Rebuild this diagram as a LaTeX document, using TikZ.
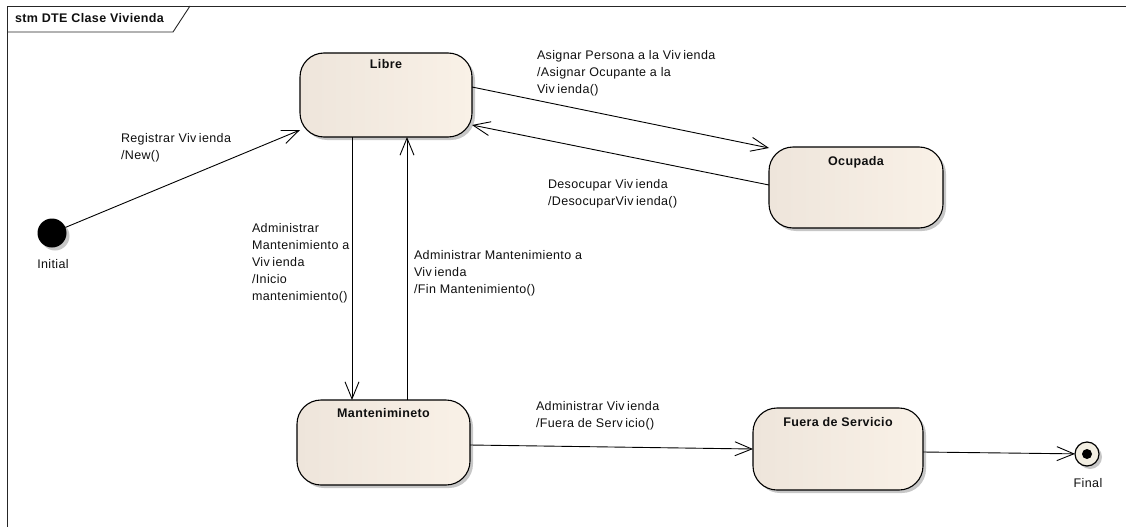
\documentclass[tikz,border=0pt]{standalone}
\usepackage{fontspec}
\setmainfont{Liberation Sans}[LetterSpace=3]
\usetikzlibrary{arrows.meta,shadows}
\definecolor{statel}{RGB}{238,229,219}
\definecolor{stater}{RGB}{249,241,231}
\definecolor{finalfill}{RGB}{242,238,226}
\definecolor{ink}{RGB}{15,15,15}
% small gap the modelling tool leaves inside some words
\newcommand\vk{\kern2.5pt}

\begin{document}
\begin{tikzpicture}[x=1pt,y=-1pt,
  every node/.style={font=\fontsize{12.5}{17}\selectfont, text=ink, inner sep=0pt, outer sep=0pt},
  shade/.style={drop shadow={shadow xshift=3pt, shadow yshift=-3pt, fill=black!40, opacity=0.55}},
  state/.style={draw=black, line width=1.1pt, rounded corners=24pt, left color=statel, right color=stater, shade},
  title/.style={font=\fontsize{12.5}{17}\selectfont\bfseries, anchor=base},
  lbl/.style={anchor=north west, align=left},
  tr/.style={draw=black, line width=0.9pt, -{Straight Barb[length=17pt,width=14pt,line width=0.9pt]}}
]
\useasboundingbox (0,0) rectangle (1126,527);

% frame with its name tab
\draw[line width=0.9pt, black!85] (1126,6) -- (7,6) -- (7,527);
\draw[line width=0.9pt, black!85] (7,32) -- (173,32) -- (190,6);
\node[title, anchor=base west] (frametitle) at (15,23) {stm DTE Clase Vivienda};

% states
\node[state, minimum width=172pt, minimum height=84pt] (libre) at (386,95) {};
\node[title] (librename) at (386,69) {Libre};
\node[state, minimum width=174pt, minimum height=81pt] (ocupada) at (856,187.5) {};
\node[title] (ocupadaname) at (856,165) {Ocupada};
\node[state, minimum width=173pt, minimum height=85pt] (mant) at (383.5,442.5) {};
\node[title] (mantname) at (383.5,417) {Mantenimineto};
\node[state, minimum width=170pt, minimum height=82pt] (fuera) at (838,449) {};
\node[title] (fueraname) at (838,426) {Fuera de Servicio};

% pseudo states
\node[circle, fill=black, minimum size=29pt, shade] (init) at (52,233) {};
\node[anchor=base] (initname) at (53,268) {Initial};
\node[circle, draw=black, line width=1.2pt, fill=finalfill, minimum size=24pt, shade] (final) at (1087,454) {};
\node[circle, fill=black, minimum size=10pt] (finaldot) at (final) {};
\node[anchor=base] (finalname) at (1088,487) {Final};

% guides for the vertical transitions
\coordinate (xdown) at (352,0);
\coordinate (xup) at (407,0);

% transitions
\draw[tr] (init) -- ([yshift=-35pt]libre.west);
\draw[tr] ([yshift=8pt]libre.east) -- ([yshift=-1pt]ocupada.north west);
\draw[tr] ([yshift=2.5pt]ocupada.west) -- ([yshift=-30pt]libre.east);
\draw[tr] (libre.south -| xdown) -- (mant.north -| xdown);
\draw[tr] (mant.north -| xup) -- (libre.south -| xup);
\draw[tr] ([yshift=-2.5pt]mant.east) -- (fuera.west);
\draw[tr] ([yshift=-3pt]fuera.east) -- (final);

% transition labels
\node[lbl] (lreg) at (121,133) {Registrar Viv\vk ienda\\/New()};
\node[lbl] (lasig) at (537,50) {Asignar Persona a la Viv\vk ienda\\/Asignar Ocupante a la\\Viv\vk ienda()};
\node[lbl] (ldeso) at (548,179) {Desocupar Viv\vk ienda\\/DesocuparViv\vk ienda()};
\node[lbl] (lini) at (252,223) {Administrar\\Mantenimiento a\\Viv\vk ienda\\/Inicio\\mantenimiento()};
\node[lbl] (lfin) at (414,250) {Administrar Mantenimiento a\\Viv\vk ienda\\/Fin Mantenimiento()};
\node[lbl] (lfuera) at (536,401) {Administrar Viv\vk ienda\\/Fuera de Serv\vk icio()};
\end{tikzpicture}
\end{document}
